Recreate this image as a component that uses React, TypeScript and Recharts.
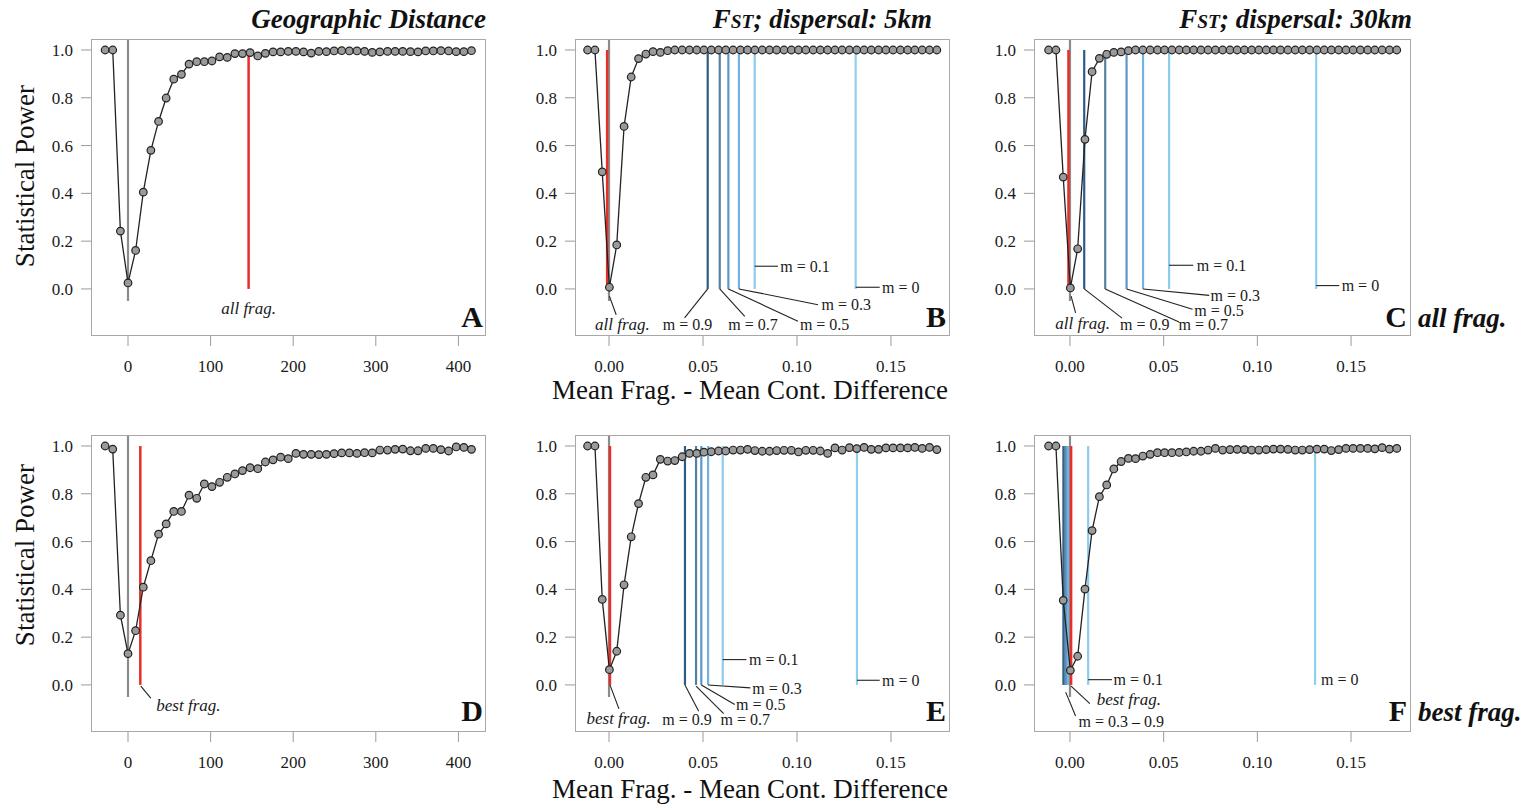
import { ComposedChart, Line, XAxis, YAxis, ReferenceLine, ReferenceDot } from 'recharts'

const SERIF = '"Liberation Serif", "Times New Roman", serif'

// x positions of the simulated distance classes
const distX = [
  -27.7, -18.5, -9.2, 0, 9.2, 18.5, 27.7, 37.0, 46.2, 55.4, 64.7, 73.9, 83.2, 92.4, 101.6, 110.9,
  120.1, 129.4, 138.6, 147.8, 157.1, 166.3, 175.6, 184.8, 194.0, 203.3, 212.5, 221.8, 231.0, 240.2,
  249.5, 258.7, 268.0, 277.2, 286.4, 295.7, 304.9, 314.2, 323.4, 332.6, 341.9, 351.1, 360.4, 369.6,
  378.8, 388.1, 397.3, 406.6, 415.8,
]
const fstX = [
  -0.0114, -0.0075, -0.0036, 0.0002, 0.0041, 0.008, 0.0118, 0.0157, 0.0196, 0.0234, 0.0273, 0.0312,
  0.035, 0.0389, 0.0428, 0.0467, 0.0505, 0.0544, 0.0583, 0.0621, 0.066, 0.0699, 0.0737, 0.0776,
  0.0815, 0.0854, 0.0892, 0.0931, 0.097, 0.1008, 0.1047, 0.1086, 0.1124, 0.1163, 0.1202, 0.124,
  0.1279, 0.1318, 0.1357, 0.1395, 0.1434, 0.1473, 0.1511, 0.155, 0.1589, 0.1627, 0.1666, 0.1705, 0.1744,
]

const powerA = [
  1.0, 1.0, 0.242, 0.025, 0.161, 0.405, 0.58, 0.701, 0.799, 0.878, 0.898, 0.941, 0.951, 0.951, 0.954,
  0.971, 0.969, 0.985, 0.985, 0.989, 0.975, 0.986, 0.992, 0.992, 0.994, 0.994, 0.992, 0.987, 0.994,
  0.993, 0.996, 0.997, 0.996, 0.996, 0.994, 0.99, 0.992, 0.994, 0.994, 0.994, 0.993, 0.992, 0.996,
  0.996, 0.997, 0.996, 0.993, 0.993, 0.997,
]
const powerB = [
  1.0, 1.0, 0.49, 0.007, 0.184, 0.68, 0.887, 0.964, 0.983, 0.993, 0.99, 0.997, 1.0, 1.0, 1.0, 1.0,
  1.0, 1.0, 1.0, 1.0, 1.0, 1.0, 1.0, 1.0, 1.0, 1.0, 1.0, 1.0, 1.0, 1.0, 1.0, 1.0, 1.0, 1.0, 1.0,
  1.0, 1.0, 1.0, 1.0, 1.0, 1.0, 1.0, 1.0, 1.0, 1.0, 1.0, 1.0, 1.0, 1.0,
]
const powerC = [
  1.0, 1.0, 0.468, 0.004, 0.168, 0.626, 0.909, 0.965, 0.982, 0.99, 0.992, 0.997, 1.0, 1.0, 1.0, 1.0,
  1.0, 1.0, 1.0, 1.0, 1.0, 1.0, 1.0, 1.0, 1.0, 1.0, 1.0, 1.0, 1.0, 1.0, 1.0, 1.0, 1.0, 1.0, 1.0,
  1.0, 1.0, 1.0, 1.0, 1.0, 1.0, 1.0, 1.0, 1.0, 1.0, 1.0, 1.0, 1.0, 1.0,
]
const powerD = [
  1.0, 0.987, 0.292, 0.131, 0.227, 0.409, 0.52, 0.631, 0.674, 0.726, 0.726, 0.794, 0.781, 0.841,
  0.83, 0.848, 0.869, 0.883, 0.897, 0.909, 0.905, 0.933, 0.942, 0.953, 0.947, 0.969, 0.965, 0.965,
  0.964, 0.965, 0.968, 0.971, 0.971, 0.969, 0.972, 0.971, 0.983, 0.983, 0.986, 0.987, 0.98, 0.98,
  0.99, 0.99, 0.985, 0.979, 0.996, 0.994, 0.986,
]
const powerE = [
  1.0, 1.0, 0.358, 0.064, 0.141, 0.419, 0.62, 0.759, 0.869, 0.879, 0.944, 0.937, 0.939, 0.955, 0.969,
  0.969, 0.974, 0.976, 0.979, 0.979, 0.983, 0.983, 0.986, 0.981, 0.978, 0.978, 0.981, 0.982, 0.982,
  0.975, 0.982, 0.982, 0.979, 0.969, 0.992, 0.983, 0.993, 0.989, 0.994, 0.986, 0.986, 0.992, 0.992,
  0.992, 0.992, 0.994, 0.99, 0.994, 0.985,
]
const powerF = [
  1.0, 1.0, 0.354, 0.061, 0.12, 0.401, 0.646, 0.788, 0.837, 0.904, 0.935, 0.948, 0.947, 0.958, 0.965,
  0.972, 0.972, 0.972, 0.973, 0.975, 0.978, 0.978, 0.983, 0.99, 0.983, 0.985, 0.986, 0.985, 0.983,
  0.983, 0.985, 0.987, 0.987, 0.986, 0.983, 0.983, 0.985, 0.987, 0.987, 0.981, 0.985, 0.99, 0.99,
  0.99, 0.99, 0.988, 0.993, 0.987, 0.99,
]

// observed fragmented-vs-continuous differences (red) and migration scenarios m = 0.9, 0.7, 0.5, 0.3, 0.1, 0
const fragObs = { A: 146, B: -0.001, C: -0.0008, D: 14.9, E: 0.0005, F: 0.0006 }
const migB = [0.0525, 0.0589, 0.0635, 0.0691, 0.0775, 0.1312]
const migC = [0.0076, 0.0188, 0.0302, 0.039, 0.0529, 0.1314]
const migE = [0.0404, 0.0463, 0.0491, 0.0527, 0.0605, 0.1319]
const migF = [-0.0035, -0.0027, -0.0019, -0.0011, 0.0097, 0.1308]
const migLabels = ['m = 0.9', 'm = 0.7', 'm = 0.5', 'm = 0.3', 'm = 0.1', 'm = 0']

const distTicks = [0, 100, 200, 300, 400]
const fstTicks = [0, 0.05, 0.1, 0.15]
const powerTicks = [0, 0.2, 0.4, 0.6, 0.8, 1.0]

const M_COLORS = ['#2c5b85', '#56809e', '#5b97c8', '#72b2e0', '#8ccbee', '#8fd0f0']
const RED = '#e62e2b'
const Y_DOMAIN: [number, number] = [-0.197, 1.046]

type Note = { x: number; y: number; text: string; anchor?: 'start' | 'middle' | 'end'; italic?: boolean }
type Seg = [number, number, number, number]

function NoteText(props: any) {
  const { viewBox, text, anchor, italic } = props
  if (!viewBox) return null
  const x = viewBox.x + (viewBox.width || 0) / 2
  const y = viewBox.y + (viewBox.height || 0) / 2
  return (
    <text x={x} y={y} dy="0.35em" textAnchor={anchor || 'start'} fontFamily={SERIF}
      fontSize={italic ? 17 : 16} fontStyle={italic ? 'italic' : 'normal'} fill="#1a1a1a">
      {text}
    </text>
  )
}

// axis tick labels drawn as plain serif text
const xTick = (digits: number) => (p: any) => (
  <text x={p.x} y={p.y} dy="0.71em" textAnchor="middle" fontFamily={SERIF} fontSize={17} fill="#1a1a1a">
    {Number(p.payload.value).toFixed(digits)}
  </text>
)
const yTick = (p: any) => (
  <text x={p.x} y={p.y} dy="0.35em" textAnchor="end" fontFamily={SERIF} fontSize={17} fill="#1a1a1a">
    {Number(p.payload.value).toFixed(1)}
  </text>
)

function Panel(props: {
  box: { x: number; y: number; w: number; h: number }
  xDomain: [number, number]
  xTicks: number[]
  digits: number
  xs: number[]
  ys: number[]
  frag: number
  mig?: number[]
  leaders: Seg[]
  notes: Note[]
}) {
  const { box, xDomain, xTicks, digits, xs, ys, frag, mig = [], leaders, notes } = props
  const rows = xs.map((x, i) => ({ x, p: ys[i] }))
  return (
    <>
      <div style={{ position: 'absolute', left: box.x - 70, top: box.y }}>
        <ComposedChart width={box.w + 70} height={box.h + 44} data={rows}
          margin={{ top: 0, right: 0, bottom: 0, left: 0 }}>
          <XAxis dataKey="x" type="number" domain={xDomain} ticks={xTicks} allowDataOverflow
            interval={0} height={44} axisLine={false} tickLine={{ stroke: '#9a9a9a' }}
            tickSize={10} tickMargin={14} tick={xTick(digits)} />
          <YAxis type="number" domain={Y_DOMAIN} ticks={powerTicks} allowDataOverflow
            interval={0} width={70} axisLine={false} tickLine={{ stroke: '#9a9a9a' }}
            tickSize={10} tickMargin={8} tick={yTick} />
          <ReferenceLine segment={[{ x: 0, y: -0.05 }, { x: 0, y: Y_DOMAIN[1] }]}
            stroke="#8c8c8c" strokeWidth={2.2} ifOverflow="visible" />
          <ReferenceLine segment={[{ x: frag, y: 0 }, { x: frag, y: 1 }]}
            stroke={RED} strokeWidth={2.5} ifOverflow="visible" />
          {mig.map((m, i) => (
            <ReferenceLine key={'m' + i} segment={[{ x: m, y: 0 }, { x: m, y: 1 }]}
              stroke={M_COLORS[i]} strokeWidth={2.2} ifOverflow="visible" />
          ))}
          {leaders.map((s, i) => (
            <ReferenceLine key={'l' + i} segment={[{ x: s[0], y: s[1] }, { x: s[2], y: s[3] }]}
              stroke="#222" strokeWidth={1.1} ifOverflow="visible" />
          ))}
          <Line type="linear" dataKey="p" stroke="#222" strokeWidth={1.3}
            dot={{ r: 3.8, fill: '#9a9a9a', stroke: '#222', strokeWidth: 1.2 }}
            activeDot={false} isAnimationActive={false} />
          {notes.map((n, i) => (
            <ReferenceDot key={'n' + i} x={n.x} y={n.y} r={0} fill="none" stroke="none"
              ifOverflow="visible"
              label={<NoteText text={n.text} anchor={n.anchor} italic={n.italic} />} />
          ))}
        </ComposedChart>
      </div>
      <div style={{
        position: 'absolute', left: box.x, top: box.y, width: box.w, height: box.h,
        border: '1px solid #a8a8a8', boxSizing: 'border-box', pointerEvents: 'none',
      }} />
    </>
  )
}

const boxA = { x: 91, y: 39, w: 395, h: 297 }
const boxB = { x: 575, y: 39, w: 375, h: 297 }
const boxC = { x: 1034, y: 39, w: 377, h: 297 }
const boxD = { x: 91, y: 435, w: 395, h: 297 }
const boxE = { x: 575, y: 435, w: 375, h: 297 }
const boxF = { x: 1034, y: 435, w: 377, h: 297 }

const distDomain: [number, number] = [-44.8, 433.4]
const fstDomainB: [number, number] = [-0.0181, 0.1814]
const fstDomainC: [number, number] = [-0.0192, 0.182]

function Title({ right, top, children }: { right: number; top: number; children: any }) {
  return (
    <div style={{
      position: 'absolute', left: right - 400, width: 400, top, textAlign: 'right',
      fontFamily: SERIF, fontSize: 27, fontWeight: 'bold', fontStyle: 'italic', lineHeight: '28px',
      color: '#111',
    }}>{children}</div>
  )
}

function Letter({ right, cy, text }: { right: number; cy: number; text: string }) {
  return (
    <div style={{
      position: 'absolute', left: right - 40, width: 40, top: cy - 16, textAlign: 'right',
      fontFamily: SERIF, fontSize: 30, fontWeight: 'bold', lineHeight: '32px', color: '#111',
    }}>{text}</div>
  )
}

function SideLabel({ left, cy, text }: { left: number; cy: number; text: string }) {
  return (
    <div style={{
      position: 'absolute', left, top: cy - 16, fontFamily: SERIF, fontSize: 27,
      fontWeight: 'bold', fontStyle: 'italic', lineHeight: '32px', color: '#111', whiteSpace: 'nowrap',
    }}>{text}</div>
  )
}

function YTitle({ cy }: { cy: number }) {
  return (
    <div style={{
      position: 'absolute', left: 25 - 120, top: cy - 15, width: 240, height: 30, lineHeight: '30px',
      textAlign: 'center', transform: 'rotate(-90deg)', fontFamily: SERIF, fontSize: 27, color: '#111',
    }}>Statistical Power</div>
  )
}

function XTitle({ cy }: { cy: number }) {
  return (
    <div style={{
      position: 'absolute', left: 750 - 300, top: cy - 15, width: 600, height: 30, lineHeight: '30px',
      textAlign: 'center', fontFamily: SERIF, fontSize: 27, color: '#111',
    }}>Mean Frag. - Mean Cont. Difference</div>
  )
}

const fst = (rest: string) => (
  <span>F<span style={{ fontSize: '0.72em' }}>ST</span>{rest}</span>
)

export default function App() {
  return (
    <div style={{
      position: 'absolute', left: 0, top: 0, width: 1521, height: 806, background: '#fff',
      fontFamily: SERIF,
    }}>
      <Title right={486} top={5}>Geographic Distance</Title>
      <Title right={932} top={5}>{fst('; dispersal: 5km')}</Title>
      <Title right={1412} top={5}>{fst('; dispersal: 30km')}</Title>

      <YTitle cy={176} />
      <YTitle cy={555} />
      <XTitle cy={390} />
      <XTitle cy={789} />

      <Panel box={boxA} xDomain={distDomain} xTicks={distTicks} digits={0} xs={distX} ys={powerA}
        frag={fragObs.A} leaders={[]}
        notes={[{ x: 146, y: -0.08, text: 'all frag.', anchor: 'middle', italic: true }]} />

      <Panel box={boxB} xDomain={fstDomainB} xTicks={fstTicks} digits={2} xs={fstX} ys={powerB}
        frag={fragObs.B} mig={migB}
        leaders={[
          [0.0525, 0, 0.0402, -0.121],
          [0.0589, 0, 0.0722, -0.115],
          [0.0635, 0, 0.1005, -0.135],
          [0.0691, 0, 0.1112, -0.066],
          [0.0775, 0.095, 0.0899, 0.095],
          [0.1312, 0.007, 0.144, 0.007],
          [0.0002, -0.03, 0.0038, -0.108],
        ]}
        notes={[
          { x: 0.0418, y: -0.149, text: migLabels[0], anchor: 'middle' },
          { x: 0.0766, y: -0.149, text: migLabels[1], anchor: 'middle' },
          { x: 0.1147, y: -0.149, text: migLabels[2], anchor: 'middle' },
          { x: 0.1262, y: -0.066, text: migLabels[3], anchor: 'middle' },
          { x: 0.0911, y: 0.095, text: migLabels[4] },
          { x: 0.1452, y: 0.007, text: migLabels[5] },
          { x: 0.0071, y: -0.149, text: 'all frag.', anchor: 'middle', italic: true },
        ]} />

      <Panel box={boxC} xDomain={fstDomainC} xTicks={fstTicks} digits={2} xs={fstX} ys={powerC}
        frag={fragObs.C} mig={migC}
        leaders={[
          [0.0076, 0, 0.0278, -0.122],
          [0.0188, 0, 0.0582, -0.138],
          [0.0302, 0, 0.0654, -0.085],
          [0.039, 0, 0.0743, -0.027],
          [0.0529, 0.099, 0.0658, 0.099],
          [0.1314, 0.014, 0.1437, 0.014],
          [0.0006, -0.03, 0.003, -0.1],
        ]}
        notes={[
          { x: 0.0399, y: -0.149, text: migLabels[0], anchor: 'middle' },
          { x: 0.0711, y: -0.149, text: migLabels[1], anchor: 'middle' },
          { x: 0.0795, y: -0.09, text: migLabels[2], anchor: 'middle' },
          { x: 0.0882, y: -0.027, text: migLabels[3], anchor: 'middle' },
          { x: 0.0677, y: 0.099, text: migLabels[4] },
          { x: 0.145, y: 0.014, text: migLabels[5] },
          { x: 0.0068, y: -0.143, text: 'all frag.', anchor: 'middle', italic: true },
        ]} />

      <Panel box={boxD} xDomain={distDomain} xTicks={distTicks} digits={0} xs={distX} ys={powerD}
        frag={fragObs.D} leaders={[[15.5, -0.005, 27.6, -0.055]]}
        notes={[{ x: 34.3, y: -0.086, text: 'best frag.', italic: true }]} />

      <Panel box={boxE} xDomain={fstDomainB} xTicks={fstTicks} digits={2} xs={fstX} ys={powerE}
        frag={fragObs.E} mig={migE}
        leaders={[
          [0.0404, 0, 0.0477, -0.11],
          [0.0463, -0.005, 0.061, -0.12],
          [0.0491, 0, 0.0669, -0.082],
          [0.0527, 0, 0.0752, -0.0125],
          [0.0605, 0.106, 0.0731, 0.106],
          [0.1319, 0.0195, 0.144, 0.0195],
          [0.0005, 0, 0.0053, -0.1],
        ]}
        notes={[
          { x: 0.0415, y: -0.145, text: migLabels[0], anchor: 'middle' },
          { x: 0.0725, y: -0.145, text: migLabels[1], anchor: 'middle' },
          { x: 0.0807, y: -0.082, text: migLabels[2], anchor: 'middle' },
          { x: 0.0894, y: -0.0125, text: migLabels[3], anchor: 'middle' },
          { x: 0.0745, y: 0.106, text: migLabels[4] },
          { x: 0.1452, y: 0.0195, text: migLabels[5] },
          { x: 0.0051, y: -0.138, text: 'best frag.', anchor: 'middle', italic: true },
        ]} />

      <Panel box={boxF} xDomain={fstDomainC} xTicks={fstTicks} digits={2} xs={fstX} ys={powerF}
        frag={fragObs.F} mig={migF}
        leaders={[
          [0.0097, 0.022, 0.0224, 0.022],
          [0.0006, -0.005, 0.0106, -0.078],
          [-0.0023, -0.03, 0.003, -0.13],
        ]}
        notes={[
          { x: 0.0232, y: 0.022, text: migLabels[4] },
          { x: 0.134, y: 0.022, text: migLabels[5] },
          { x: 0.0314, y: -0.058, text: 'best frag.', anchor: 'middle', italic: true },
          { x: 0.0046, y: -0.152, text: 'm = 0.3 \u2013 0.9' },
        ]} />

      <Letter right={483} cy={317} text="A" />
      <Letter right={946} cy={317} text="B" />
      <Letter right={1407} cy={317} text="C" />
      <Letter right={483} cy={711} text="D" />
      <Letter right={946} cy={711} text="E" />
      <Letter right={1407} cy={711} text="F" />
      <SideLabel left={1418} cy={318} text="all frag." />
      <SideLabel left={1418} cy={712} text="best frag." />
    </div>
  )
}
